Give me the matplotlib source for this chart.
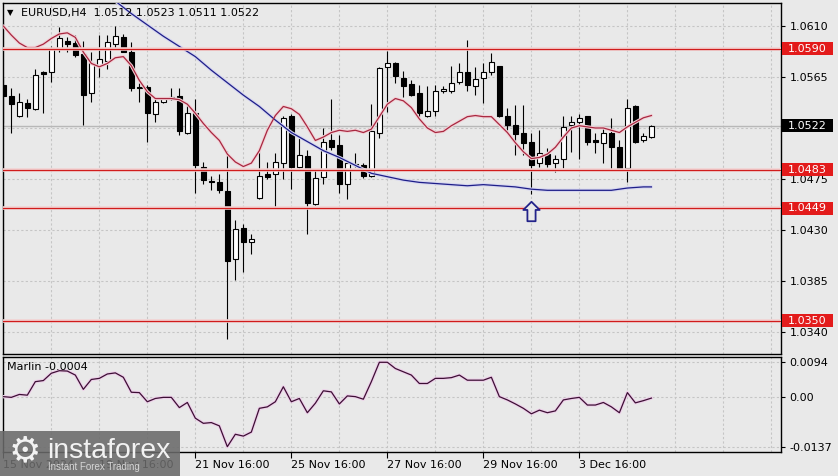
import numpy as np
import matplotlib
matplotlib.use('Agg')
import matplotlib.pyplot as plt
from matplotlib.patches import Rectangle
from matplotlib.path import Path
import matplotlib.transforms as mtransforms

# ---------------- data ----------------
symbol = 'EURUSD,H4'
opens = [1.0558,1.0548,1.0531,1.0542,1.0537,1.0569,1.0569,1.0591,1.0597,1.0595,
         1.0585,1.0551,1.0576,1.0579,1.0594,1.0600,1.0587,1.0556,1.0556,1.0532,
         1.0543,1.0547,1.0548,1.0516,1.0533,1.0486,1.0473,1.0472,1.0464,1.0404,
         1.0432,1.0419,1.0458,1.0479,1.0479,1.0489,1.0531,1.0486,1.0495,1.0453,
         1.0477,1.0509,1.0505,1.0471,1.0488,1.0487,1.0478,1.0516,1.0574,1.0577,
         1.0564,1.0559,1.0551,1.0531,1.0535,1.0553,1.0553,1.0561,1.0569,1.0557,
         1.0564,1.0569,1.0575,1.0531,1.0523,1.0516,1.0508,1.0489,1.0497,1.0489,
         1.0493,1.0523,1.0525,1.0531,1.0509,1.0507,1.0516,1.0503,1.0485,1.0539,
         1.0509,1.0512]
highs = [1.0564,1.0555,1.0551,1.0546,1.0572,1.0570,1.0592,1.0609,1.0600,1.0602,
         1.0597,1.0587,1.0602,1.0602,1.0610,1.0603,1.0596,1.0560,1.0558,1.0546,
         1.0547,1.0555,1.0555,1.0540,1.0546,1.0490,1.0478,1.0479,1.0500,1.0439,
         1.0435,1.0426,1.0501,1.0490,1.0498,1.0531,1.0532,1.0511,1.0501,1.0484,
         1.0520,1.0546,1.0514,1.0490,1.0498,1.0489,1.0541,1.0574,1.0588,1.0578,
         1.0570,1.0562,1.0558,1.0557,1.0558,1.0557,1.0575,1.0577,1.0598,1.0574,
         1.0577,1.0586,1.0575,1.0538,1.0540,1.0540,1.0516,1.0518,1.0502,1.0496,
         1.0531,1.0531,1.0532,1.0531,1.0516,1.0520,1.0529,1.0509,1.0546,1.0540,
         1.0516,1.0523]
lows = [1.0524,1.0516,1.0530,1.0530,1.0536,1.0533,1.0561,1.0587,1.0587,1.0583,
        1.0523,1.0543,1.0565,1.0572,1.0591,1.0587,1.0553,1.0543,1.0508,1.0525,
        1.0542,1.0545,1.0514,1.0515,1.0463,1.0471,1.0465,1.0463,1.0334,1.0386,
        1.0393,1.0409,1.0457,1.0475,1.0450,1.0475,1.0466,1.0485,1.0426,1.0452,
        1.0471,1.0501,1.0463,1.0457,1.0486,1.0476,1.0477,1.0511,1.0534,1.0560,
        1.0547,1.0548,1.0530,1.0530,1.0531,1.0551,1.0551,1.0559,1.0553,1.0549,
        1.0542,1.0567,1.0530,1.0518,1.0496,1.0496,1.0462,1.0486,1.0486,1.0481,
        1.0485,1.0499,1.0493,1.0505,1.0498,1.0489,1.0483,1.0483,1.0472,1.0507,
        1.0508,1.0511]
closes = [1.0548,1.0541,1.0543,1.0538,1.0567,1.0568,1.0591,1.0599,1.0594,1.0584,
          1.0549,1.0577,1.0581,1.0596,1.0601,1.0587,1.0555,1.0555,1.0533,1.0543,
          1.0546,1.0546,1.0517,1.0533,1.0487,1.0474,1.0472,1.0465,1.0403,1.0431,
          1.0419,1.0422,1.0478,1.0477,1.0490,1.0529,1.0486,1.0496,1.0454,1.0476,
          1.0508,1.0503,1.0471,1.0489,1.0487,1.0478,1.0517,1.0573,1.0577,1.0566,
          1.0557,1.0549,1.0533,1.0535,1.0553,1.0554,1.0560,1.0569,1.0558,1.0563,
          1.0569,1.0578,1.0531,1.0523,1.0515,1.0507,1.0487,1.0498,1.0488,1.0493,
          1.0521,1.0525,1.0529,1.0508,1.0508,1.0516,1.0503,1.0484,1.0538,1.0508,
          1.0513,1.0522]
ma_fast = [1.0610,1.0602,1.0595,1.0591,1.0591,1.0594,1.0599,1.0603,1.0604,1.0600,
           1.0587,1.0577,1.0574,1.0577,1.0582,1.0583,1.0575,1.0562,1.0552,1.0546,
           1.0546,1.0546,1.0545,1.0541,1.0533,1.0524,1.0516,1.0509,1.0497,1.0490,
           1.0486,1.0489,1.0500,1.0518,1.0531,1.0539,1.0537,1.0532,1.0521,1.0509,
           1.0512,1.0516,1.0518,1.0517,1.0518,1.0516,1.0519,1.0530,1.0541,1.0546,
           1.0544,1.0538,1.0528,1.0520,1.0516,1.0517,1.0522,1.0526,1.0530,1.0531,
           1.0530,1.0530,1.0523,1.0516,1.0507,1.0499,1.0493,1.0494,1.0497,1.0503,
           1.0512,1.0520,1.0522,1.0521,1.0520,1.0520,1.0518,1.0516,1.0521,1.0525,
           1.0529,1.0531]
ma_slow_idx = [14,16,18,20,22,24,26,28,30,32,34,36,38,40,42,44,46,48,50,52,54,56,
               58,60,62,64,66,68,70,72,74,76,78,80,81]
ma_slow = [1.0632,1.0621,1.0611,1.0601,1.0592,1.0583,1.0571,1.0560,1.0549,1.0539,
           1.0527,1.0516,1.0508,1.0500,1.0494,1.0487,1.0480,1.0477,1.0474,1.0472,
           1.0471,1.0470,1.0469,1.0470,1.0469,1.0468,1.0466,1.0465,1.0465,1.0465,
           1.0465,1.0465,1.0467,1.0468,1.0468]
marlin = [0.0000,-0.0002,0.0006,0.0004,0.0041,0.0044,0.0064,0.0071,0.0070,0.0059,
          0.0020,0.0047,0.0050,0.0062,0.0065,0.0053,0.0012,0.0011,-0.0014,-0.0005,
          -0.0002,-0.0002,-0.0030,-0.0016,-0.0059,-0.0073,-0.0071,-0.0080,-0.0137,-0.0103,
          -0.0108,-0.0097,-0.0032,-0.0028,-0.0014,0.0027,-0.0014,-0.0005,-0.0044,-0.0018,
          0.0016,0.0013,-0.0020,0.0002,0.0000,-0.0007,0.0041,0.0094,0.0094,0.0077,
          0.0068,0.0059,0.0036,0.0036,0.0050,0.0050,0.0052,0.0059,0.0045,0.0045,
          0.0045,0.0053,0.0000,-0.0009,-0.0020,-0.0032,-0.0047,-0.0037,-0.0044,-0.0039,
          -0.0009,-0.0005,-0.0002,-0.0023,-0.0023,-0.0016,-0.0028,-0.0044,0.0011,-0.0017,
          -0.0011,-0.0004]
levels = [1.0590, 1.0483, 1.0449, 1.0350]
price_ticks = [1.0610, 1.0565, 1.0520, 1.0475, 1.0430, 1.0385, 1.0340]
price_tick_labels = ['1.0610', '1.0565', '', '1.0475', '1.0430', '1.0385', '1.0340']
date_tick_idx = [0, 12, 24, 36, 48, 60, 72]
date_tick_labels = ['15 Nov 2024', '19 Nov 16:00', '21 Nov 16:00', '25 Nov 16:00',
                    '27 Nov 16:00', '29 Nov 16:00', '3 Dec 16:00']
marlin_ticks = [0.0094, 0.0, -0.0137]
marlin_tick_labels = ['0.0094', '0.00', '-0.0137']
signal_idx = 66
signal_price = 1.04465

# ---------------- figure ----------------
W, H = 838, 476
bg = '#e9e9e9'
grid_c = '#c5c5c5'
plt.rcParams['font.family'] = ['DejaVu Sans']
fig = plt.figure(figsize=(W / 100, H / 100), dpi=100, facecolor=bg)


def frect(x0, y0, x1, y1):
    return [x0 / W, 1 - y1 / H, (x1 - x0) / W, (y1 - y0) / H]


ax = fig.add_axes(frect(3, 2.7, 781, 354))
ax2 = fig.add_axes(frect(3, 356.7, 781, 451.7))
for a in (ax, ax2):
    a.set_facecolor(bg)
    for s in a.spines.values():
        s.set_color('black')
        s.set_linewidth(1)
    a.set_xlim(-0.04, 97.2)
    a.yaxis.tick_right()
    a.set_axisbelow(True)

o = np.array(opens); h = np.array(highs); l = np.array(lows); c = np.array(closes)
x = np.arange(len(o))
up = c >= o
bb = np.minimum(o, c)
bh = np.abs(c - o)

# bid line
ax.axhline(c[-1], color='#b8b8b8', lw=1, zorder=1)

# candles
ax.vlines(x, l, h, color='black', lw=0.8, zorder=3)
ax.bar(x[up], bh[up], bottom=bb[up], width=0.7, facecolor='white', edgecolor='black', lw=0.8, zorder=4)
ax.bar(x[~up], bh[~up], bottom=bb[~up], width=0.7, facecolor='black', edgecolor='black', lw=0.8, zorder=4)

# moving averages
ax.plot(ma_slow_idx, ma_slow, color='#d6d6f0', lw=2.4, zorder=5, solid_capstyle='round')
ax.plot(ma_slow_idx, ma_slow, color='#1e1e88', lw=0.9, zorder=5.1)
ax.plot(x, ma_fast, color='#f2d2d8', lw=2.4, zorder=5, solid_capstyle='round')
ax.plot(x, ma_fast, color='#a8273f', lw=0.9, zorder=5.1)

# level lines
for lv in levels:
    ax.axhline(lv, color='#f2d2d2', lw=2.6, zorder=6)
    ax.axhline(lv, color='#d01c1c', lw=0.9, zorder=6.1)

# signal arrow marker
verts = [(0, 1), (0.84, 0.16), (0.42, 0.16), (0.42, -1), (-0.42, -1), (-0.42, 0.16),
         (-0.84, 0.16), (0, 1)]
codes = [Path.MOVETO] + [Path.LINETO] * 6 + [Path.CLOSEPOLY]
arrow = Path(verts, codes)
ax.plot([signal_idx], [signal_price], marker=arrow, markersize=14, markerfacecolor=bg,
        markeredgecolor='#23238a', markeredgewidth=1.3, zorder=7, ls='none')

ax.set_ylim(1.03205, 1.06306)
ax.set_yticks(price_ticks)
ax.set_yticklabels(price_tick_labels)
ax.set_xticks(np.arange(0, 97, 6))
ax.tick_params(axis='x', length=0, labelbottom=False)
ax.tick_params(axis='y', direction='out', length=3, pad=3, labelsize=8, colors='black')
ax.grid(True, color=grid_c, ls=(0, (2, 2)), lw=0.8)

# right-side boxes
trans = mtransforms.blended_transform_factory(ax.transAxes, ax.transData)
bx0 = (782 - 3) / 778
bw = (833 - 782) / 778
bhh = 13 / 11330
for lv in levels:
    ax.add_patch(Rectangle((bx0, lv - bhh / 2), bw, bhh, transform=trans, facecolor='#e31b1b',
                           edgecolor='none', clip_on=False, zorder=8))
    ax.text((788 - 3) / 778, lv, f'{lv:.4f}', transform=trans, color='white', fontsize=8,
            va='center', ha='left', clip_on=False, zorder=9)
ax.add_patch(Rectangle((bx0, c[-1] - bhh / 2), bw, bhh, transform=trans, facecolor='black',
                       edgecolor='none', clip_on=False, zorder=8))
ax.text((788 - 3) / 778, c[-1], f'{c[-1]:.4f}', transform=trans, color='white', fontsize=8,
        va='center', ha='left', clip_on=False, zorder=9)

# title
fig.text(7 / W, 1 - 12.5 / H, '▼', fontsize=6, va='center', ha='left', color='black')
fig.text(21 / W, 1 - 13 / H,
         f'{symbol}  {opens[-1]:.4f} {highs[-1]:.4f} {lows[-1]:.4f} {closes[-1]:.4f}',
         fontsize=8, va='center', ha='left', color='black')

# ---------------- Marlin panel ----------------
m = np.array(marlin)
ax2.plot(x, m, color='#eed0ea', lw=2.4, zorder=3, solid_capstyle='round')
ax2.plot(x, m, color='#3c0f34', lw=0.9, zorder=3.1)
ax2.set_ylim(-0.01507, 0.01093)
ax2.set_yticks(marlin_ticks)
ax2.set_yticklabels(marlin_tick_labels)
ax2.tick_params(axis='y', direction='out', length=3, pad=3, labelsize=8, colors='black')
ax2.set_xticks(np.arange(0, 97, 6), minor=True)
ax2.set_xticks(date_tick_idx)
ax2.set_xticklabels(date_tick_labels, ha='left', fontsize=8)
ax2.tick_params(axis='x', which='major', direction='out', length=4, pad=2, colors='black')
ax2.tick_params(axis='x', which='minor', length=0)
ax2.grid(True, which='both', axis='x', color=grid_c, ls=(0, (2, 2)), lw=0.8)
ax2.grid(True, which='major', axis='y', color=grid_c, ls=(0, (2, 2)), lw=0.8)
ax2.text(4 / 778, 1 - 10.5 / 95, f'Marlin {marlin[-1]:.4f}', transform=ax2.transAxes,
         fontsize=8, va='center', ha='left', color='black')

# ---------------- logo ----------------
fig.patches.append(Rectangle((0, 0), 180 / W, 45 / H, transform=fig.transFigure,
                             facecolor='#6a6a6a', edgecolor='none', alpha=0.88, zorder=10))
fig.text(25 / W, 1 - 451 / H, '⚙', fontsize=26, color='#f2f2f2', ha='center', va='center',
         zorder=11)
fig.text(47 / W, 1 - 451 / H, 'instaforex', fontsize=20.5, color='#f2f2f2',
         family=['Liberation Sans', 'DejaVu Sans'], ha='left', va='center', zorder=11)
fig.text(48 / W, 1 - 467.5 / H, 'Instant Forex Trading', fontsize=7, color='#d6d6d6',
         family=['Liberation Sans', 'DejaVu Sans'], ha='left', va='center', zorder=11)

fig.savefig('out.png', dpi=100, facecolor=bg)
